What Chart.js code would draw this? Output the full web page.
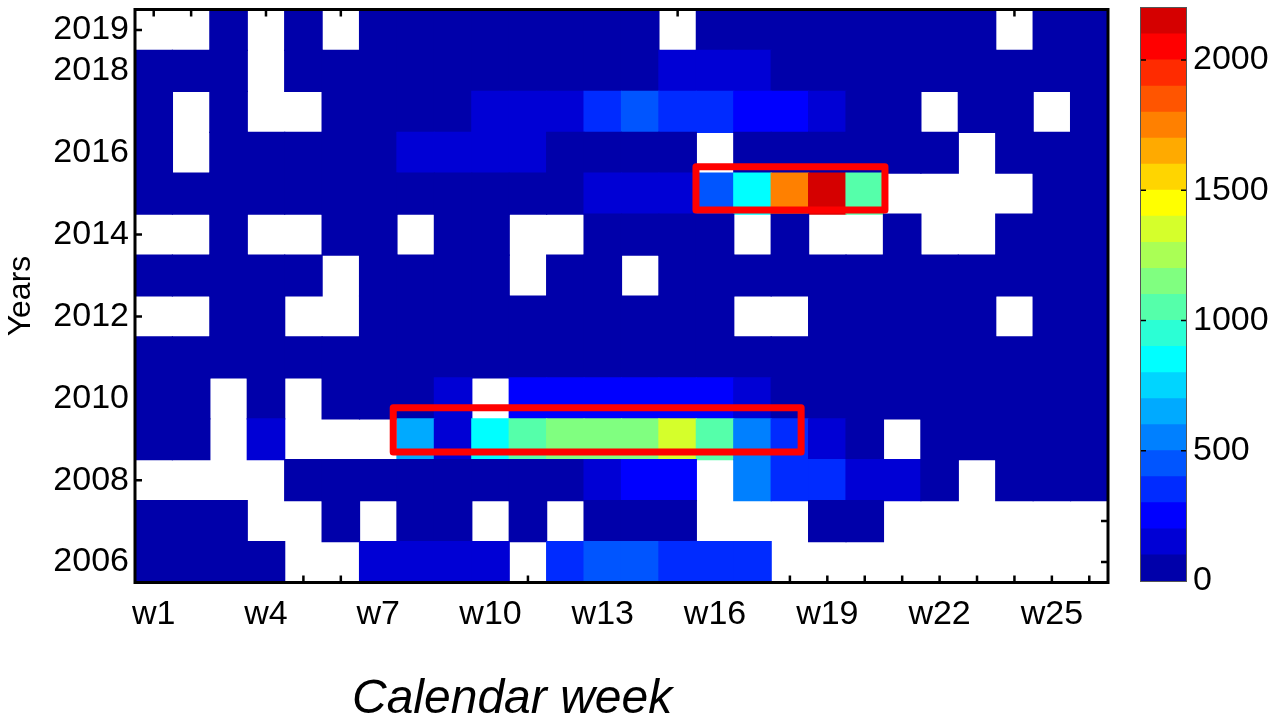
<!DOCTYPE html>
<html>
<head>
<meta charset="utf-8">
<title>Calendar week heatmap</title>
<script src="https://cdn.jsdelivr.net/npm/chart.js@4.4.1/dist/chart.umd.min.js"></script>
<style>
  html, body { margin: 0; padding: 0; background: #fff; }
  #wrap { position: relative; width: 1268px; height: 718px; overflow: hidden; }
  #heat { position: absolute; left: 0; top: 0; }
  #bar { position: absolute; left: 1130px; top: 0; }
  #xtitle {
    position: absolute; left: 352px; top: 673px;
    font: italic 48px "Liberation Sans", Arial, sans-serif;
    line-height: 1; color: #000; white-space: nowrap;
  }
</style>
</head>
<body>
<div id="wrap">
  <canvas id="heat" width="1268" height="718"></canvas>
  <canvas id="bar" width="138" height="718"></canvas>
  <div id="xtitle">Calendar week</div>
</div>
<script>
var weeks = ['w1', 'w2', 'w3', 'w4', 'w5', 'w6', 'w7', 'w8', 'w9', 'w10', 'w11', 'w12', 'w13',
  'w14', 'w15', 'w16', 'w17', 'w18', 'w19', 'w20', 'w21', 'w22', 'w23', 'w24', 'w25', 'w26'];
var years = [2006, 2007, 2008, 2009, 2010, 2011, 2012, 2013, 2014, 2015, 2016, 2017, 2018, 2019];
var yearTickLabels = [2006, 2008, 2010, 2012, 2014, 2016, 2018, 2019];

// counts per week w1..w26, null = no record that week
var counts2006 = [51, 44, 58, 62, null, null, 137, 152, 128, 164, null, 318, 423, 447, 352, 331, 364, null, null, null, null, null, null, null, null, null];
var counts2007 = [46, 53, 41, null, null, 58, null, 63, 55, null, 67, null, 72, 61, 58, null, null, null, 69, 74, null, null, null, null, null, null];
var counts2008 = [null, null, null, null, 54, 62, 48, 71, 66, 59, 77, 83, 118, 226, 252, null, 541, 327, 362, 149, 127, 68, null, 57, 49, 61];
var counts2009 = [61, 73, null, 142, null, null, null, 654, 168, 872, 1068, 1147, 1176, 1132, 1364, 1053, 572, 336, 181, 86, null, 64, 58, 70, 52, 47];
var counts2010 = [57, 64, null, 52, null, 69, 75, 88, 134, null, 246, 268, 231, 257, 274, 239, 152, 79, 66, 58, 71, 53, 62, 49, 56, 45];
var counts2011 = [48, 55, 62, 51, 44, 67, 59, 72, 65, 78, 70, 81, 74, 69, 77, 63, 58, 66, 54, 49, 61, 46, 52, 43, 57, 50];
var counts2012 = [null, null, 42, 55, null, null, 61, 48, 66, 57, 70, 63, 59, 74, 68, 52, null, null, 64, 49, 58, 45, 53, null, 47, 40];
var counts2013 = [39, 51, 44, 58, 47, null, 63, 55, 49, 60, null, 66, 57, null, 71, 62, 53, 68, 59, 46, 52, 41, 48, 56, 43, 50];
var counts2014 = [null, null, 46, null, null, 53, 61, null, 49, 67, null, null, 58, 72, 64, 55, null, 62, null, null, 48, null, null, 57, 44, 51];
var counts2015 = [52, 64, 47, 59, 71, 45, 56, 68, 61, 74, 58, 83, 127, 146, 168, 448, 853, 1746, 2163, 1042, null, null, null, null, 57, 49];
var counts2016 = [43, null, 58, 51, 66, 47, 60, 126, 141, 155, 118, 72, 53, 64, 49, null, 57, 61, 45, 70, 52, 38, null, 63, 55, 47];
var counts2017 = [56, null, 49, null, null, 62, 45, 70, 58, 147, 163, 139, 342, 436, 318, 357, 264, 238, 172, 66, 51, null, 48, 59, null, 44];
var counts2018 = [61, 47, 53, null, 44, 58, 39, 66, 50, 42, 71, 55, 48, 63, 132, 158, 121, 57, 46, 68, 52, 40, 59, 43, 37, 54];
var counts2019 = [null, null, 45, null, 38, null, 52, 60, 41, 33, 57, 48, 62, 39, null, 55, 44, 36, 58, 47, 51, 40, 35, null, 42, 49];

var yearRows = [counts2006, counts2007, counts2008, counts2009, counts2010, counts2011, counts2012,
  counts2013, counts2014, counts2015, counts2016, counts2017, counts2018, counts2019];

// marked stretches, in week-index / year units
var highlightBoxes = [
  { from: 14.49, to: 19.54, low: 2014.6, high: 2015.66 },
  { from: 6.4, to: 17.3, low: 2008.69, high: 2009.77 }
];

// 22-step jet colour scale, 100 counts per step
var levelStep = 100;
var levelMax = 2200;
var barTicks = [0, 500, 1000, 1500, 2000];
var jet = ['rgb(0,0,170)', 'rgb(0,0,213)', 'rgb(0,0,255)', 'rgb(0,43,255)', 'rgb(0,85,255)',
  'rgb(0,128,255)', 'rgb(0,170,255)', 'rgb(0,213,255)', 'rgb(0,255,255)', 'rgb(43,255,213)',
  'rgb(85,255,170)', 'rgb(128,255,128)', 'rgb(170,255,85)', 'rgb(213,255,43)', 'rgb(255,255,0)',
  'rgb(255,213,0)', 'rgb(255,170,0)', 'rgb(255,128,0)', 'rgb(255,85,0)', 'rgb(255,43,0)',
  'rgb(255,0,0)', 'rgb(213,0,0)'];

var fontFamily = '"Liberation Sans", Arial, Helvetica, sans-serif';
var tickFont = { family: fontFamily, size: 34 };

function colorFor(v) {
  var i = Math.floor(v / levelStep);
  return jet[Math.max(0, Math.min(jet.length - 1, i))];
}

// one floating-bar dataset per year, each bar spans the year row
var heatSets = years.map(function (yr, i) {
  var row = yearRows[i];
  return {
    label: String(yr),
    data: row.map(function (v) { return v === null ? null : [yr - 0.5, yr + 0.5]; }),
    backgroundColor: row.map(function (v) { return v === null ? 'rgba(0,0,0,0)' : colorFor(v); }),
    borderWidth: 0,
    inflateAmount: 0.6,
    grouped: false,
    barPercentage: 1,
    categoryPercentage: 1
  };
});

var heatDecor = {
  id: 'heatDecor',
  beforeDatasetsDraw: function (chart) {
    var a = chart.chartArea, x = chart.scales.x, y = chart.scales.y, ctx = chart.ctx;
    ctx.save();
    ctx.strokeStyle = '#000';
    ctx.lineWidth = 2.5;
    ctx.beginPath();
    years.forEach(function (yr) {
      var py = y.getPixelForValue(yr);
      ctx.moveTo(a.left, py); ctx.lineTo(a.left + 7, py);
      ctx.moveTo(a.right, py); ctx.lineTo(a.right - 7, py);
    });
    weeks.forEach(function (w, i) {
      var px = x.getPixelForValue(i);
      ctx.moveTo(px, a.top); ctx.lineTo(px, a.top + 7);
      ctx.moveTo(px, a.bottom); ctx.lineTo(px, a.bottom - 7);
    });
    ctx.stroke();
    ctx.restore();
  },
  afterDatasetsDraw: function (chart) {
    var a = chart.chartArea, x = chart.scales.x, y = chart.scales.y, ctx = chart.ctx;
    ctx.save();
    // axes box
    ctx.strokeStyle = '#000';
    ctx.lineWidth = 3;
    ctx.strokeRect(a.left, a.top, a.right - a.left, a.bottom - a.top);
    // red marker boxes
    ctx.strokeStyle = '#ff0000';
    ctx.lineWidth = 7;
    ctx.lineJoin = 'round';
    highlightBoxes.forEach(function (b) {
      var x0 = x.getPixelForValue(b.from), x1 = x.getPixelForValue(b.to);
      var y0 = y.getPixelForValue(b.high), y1 = y.getPixelForValue(b.low);
      ctx.strokeRect(x0, y0, x1 - x0, y1 - y0);
    });
    ctx.restore();
  }
};

new Chart(document.getElementById('heat'), {
  type: 'bar',
  data: { labels: weeks, datasets: heatSets },
  options: {
    responsive: false,
    animation: false,
    devicePixelRatio: 1,
    layout: { padding: { left: 0, top: 9.5, right: 160, bottom: 0 } },
    plugins: { legend: { display: false }, tooltip: { enabled: false } },
    scales: {
      x: {
        grid: { display: false, drawTicks: false },
        border: { display: false },
        ticks: {
          autoSkip: false,
          maxRotation: 0,
          padding: 12,
          color: '#000',
          font: tickFont,
          callback: function (val, idx) { return idx % 3 === 0 ? weeks[idx] : ''; }
        },
        afterFit: function (s) {
          s.height = 135.5;
          s.paddingLeft = 0;
          s.paddingRight = 0;
        }
      },
      y: {
        type: 'linear',
        min: 2005.5,
        max: 2019.5,
        grid: { display: false, drawTicks: false },
        border: { display: false },
        afterBuildTicks: function (s) {
          s.ticks = years.map(function (yr) { return { value: yr }; });
        },
        ticks: {
          padding: 6,
          color: '#000',
          font: tickFont,
          callback: function (v) { return yearTickLabels.indexOf(v) >= 0 ? String(v) : ''; }
        },
        title: {
          display: true,
          text: 'Years',
          color: '#000',
          font: { family: fontFamily, size: 32 },
          padding: { top: 2, bottom: 0 }
        },
        afterFit: function (s) {
          s.width = 135;
          s.paddingTop = 0;
          s.paddingBottom = 0;
        }
      }
    }
  },
  plugins: [heatDecor]
});

// colour bar: stacked 100-count bands
var bandSets = jet.map(function (c) {
  return {
    data: [levelStep],
    backgroundColor: c,
    borderWidth: 0,
    inflateAmount: 0.5,
    barPercentage: 1,
    categoryPercentage: 1
  };
});

var barDecor = {
  id: 'barDecor',
  afterDatasetsDraw: function (chart) {
    var a = chart.chartArea, y = chart.scales.y, ctx = chart.ctx;
    ctx.save();
    ctx.strokeStyle = '#000';
    ctx.lineWidth = 1.5;
    ctx.beginPath();
    barTicks.slice(1).forEach(function (t) {
      var py = y.getPixelForValue(t);
      ctx.moveTo(a.left, py); ctx.lineTo(a.left + 5, py);
      ctx.moveTo(a.right, py); ctx.lineTo(a.right - 5, py);
    });
    ctx.stroke();
    ctx.strokeStyle = '#555';
    ctx.lineWidth = 1;
    ctx.strokeRect(a.left - 0.5, a.top - 0.5, a.right - a.left + 1, a.bottom - a.top + 1);
    ctx.restore();
  }
};

new Chart(document.getElementById('bar'), {
  type: 'bar',
  data: { labels: [''], datasets: bandSets },
  options: {
    responsive: false,
    animation: false,
    devicePixelRatio: 1,
    layout: { padding: { left: 11, top: 8, right: 0, bottom: 137 } },
    plugins: { legend: { display: false }, tooltip: { enabled: false } },
    scales: {
      x: { stacked: true, display: false },
      y: {
        stacked: true,
        position: 'right',
        min: 0,
        max: levelMax,
        grid: { display: false, drawTicks: false },
        border: { display: false },
        afterBuildTicks: function (s) {
          s.ticks = barTicks.map(function (t) { return { value: t }; });
        },
        ticks: {
          padding: 7,
          color: '#000',
          font: tickFont,
          callback: function (v) { return String(v); }
        },
        afterFit: function (s) {
          s.width = 82;
          s.paddingTop = 0;
          s.paddingBottom = 0;
        }
      }
    }
  },
  plugins: [barDecor]
});
</script>
</body>
</html>
